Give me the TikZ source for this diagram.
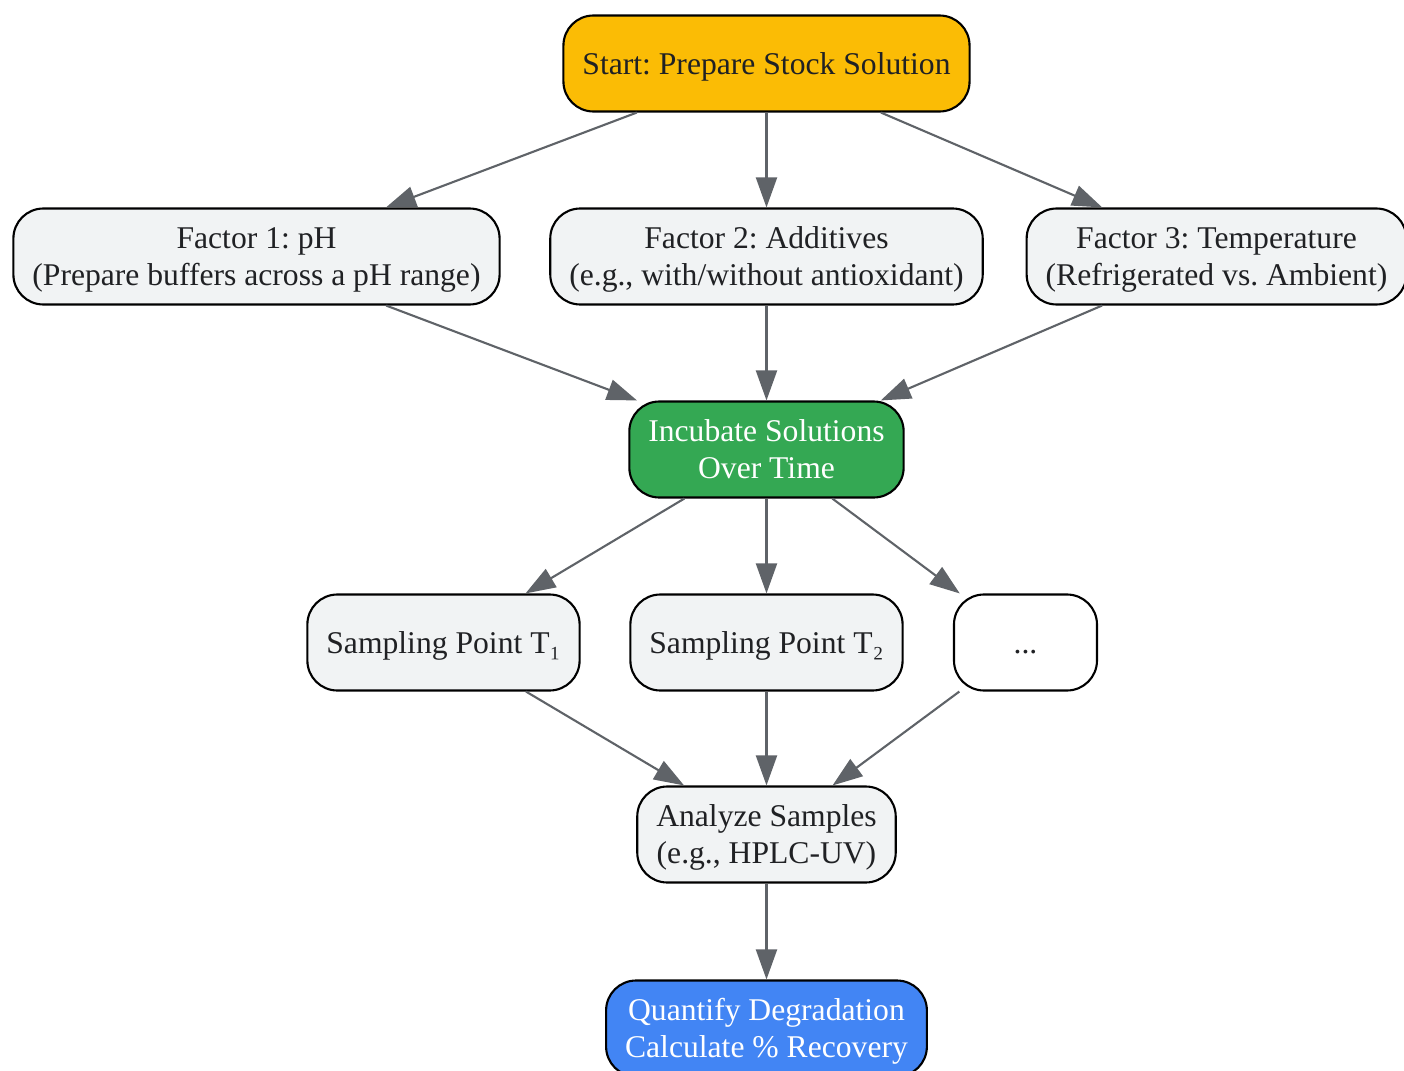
\documentclass[tikz,border=0pt]{standalone}
\usepackage{fontspec}
\setmainfont{Liberation Serif}
\usetikzlibrary{arrows.meta}
\frenchspacing

\definecolor{startyellow}{HTML}{FBBC05}
\definecolor{incubgreen}{HTML}{34A853}
\definecolor{quantblue}{HTML}{4285F4}
\definecolor{boxgray}{HTML}{F1F3F4}
\definecolor{textdark}{HTML}{202124}
\definecolor{linkgray}{HTML}{5F6368}

% line strut, as a browser line box
\newcommand{\lnstrut}{\rule[-4.4pt]{0pt}{21pt}}

\begin{document}
\begin{tikzpicture}[
		box/.style={draw=black, line width=1.2pt, rounded corners=0.6cm, fill=boxgray, text=textdark,
			align=center, minimum height=1.92cm, inner xsep=0.38cm, inner ysep=0.1cm,
			font=\fontsize{18}{21}\selectfont,
			execute at begin node=\lnstrut, execute at end node=\lnstrut},
		link/.style={draw=linkgray, line width=1.2pt, -{Triangle[length=0.6cm, width=0.42cm]}},
		node distance=3.86cm]
				\useasboundingbox (-15.33,1.27) rectangle (12.75,-20.15);
				
				\node (start) [box, fill=startyellow] at (0,0) {Start: Prepare Stock Solution};
				\node (fac2) [box, below of=start] {\lnstrut Factor 2: Additives\\(e.g., with/without antioxidant)\lnstrut};
				\node (fac1) [box, left of=fac2, node distance=10.2cm] {\lnstrut Factor 1: pH\\(Prepare buffers across a pH range)\lnstrut};
				\node (fac3) [box, right of=fac2, node distance=9cm] {\lnstrut Factor 3: Temperature\\(Refrigerated vs. Ambient)\lnstrut};
				\node (incub) [box, fill=incubgreen, text=white, below of=fac2] {\lnstrut Incubate Solutions\\Over Time\lnstrut};
				\node (samp2) [box, below of=incub] {Sampling Point T₂};
				\node (samp1) [box, left of=samp2, node distance=6.46cm] {Sampling Point T₁};
				\node (samp3) [box, fill=white, minimum width=2.86cm, right of=samp2, node distance=5.18cm] {...};
				\node (analyze) [box, below of=samp2, node distance=3.84cm] {\lnstrut Analyze Samples\\(e.g., HPLC-UV)\lnstrut};
				\node (quant) [box, fill=quantblue, text=white, below of=analyze, node distance=3.88cm] {\lnstrut Quantify Degradation\\Calculate \% Recovery\lnstrut};
				
				% Arrows
				\draw[link] (start) -- (fac1);
				\draw[link] (start) -- (fac2);
				\draw[link] (start) -- (fac3);
				\draw[link] (fac1) -- (incub);
				\draw[link] (fac2) -- (incub);
				\draw[link] (fac3) -- (incub);
				\draw[link] (incub) -- (samp1);
				\draw[link] (incub) -- (samp2);
				\draw[link] (incub) -- (samp3);
				\draw[link] (samp1) -- (analyze);
				\draw[link] (samp2) -- (analyze);
				\draw[link] (samp3) -- (analyze);
				\draw[link] (analyze) -- (quant);
			\end{tikzpicture}
\end{document}
